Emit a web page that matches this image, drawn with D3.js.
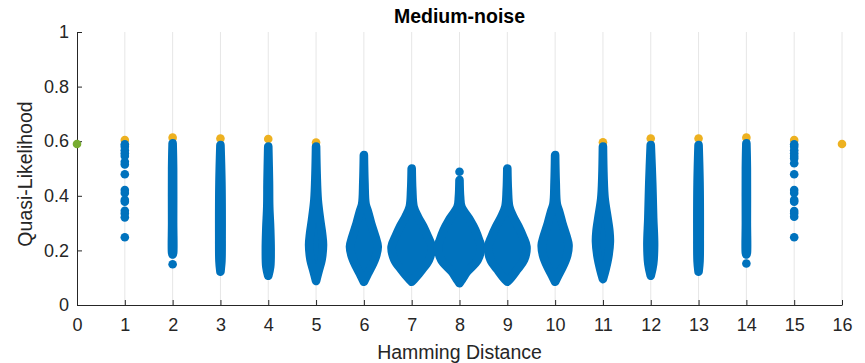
<!DOCTYPE html>
<html>
<head>
<meta charset="utf-8">
<script src="https://cdn.jsdelivr.net/npm/d3@7"></script>
<style>
  body { margin: 0; background: #fff; }
  svg { font-family: "Liberation Sans", Arial, Helvetica, sans-serif; }
</style>
</head>
<body>
<div id="chart"></div>
<script>
// values
const xTicks = d3.range(0, 17);
const yTicks = [0, 0.2, 0.4, 0.6, 0.8, 1];
const ytickLabels = ['0', '0.2', '0.4', '0.6', '0.8', '1'];

// best value per distance (yellow) and the reference point (green)
const bestDist = [1, 2, 3, 4, 5, 11, 12, 13, 14, 15, 16];
const bestVal = [0.604, 0.613, 0.610, 0.608, 0.595, 0.596, 0.610, 0.610, 0.613, 0.604, 0.590];
const originVal = 0.590;

// sparse columns, one dot each
const dots1 = [0.589, 0.580, 0.567, 0.556, 0.546, 0.525, 0.515, 0.479, 0.421, 0.410, 0.385, 0.378, 0.345, 0.335, 0.321, 0.248];
const dots15 = [0.589, 0.580, 0.567, 0.556, 0.546, 0.537, 0.519, 0.479, 0.421, 0.410, 0.385, 0.378, 0.344, 0.335, 0.323, 0.248];
// loose single dots that sit apart from a swarm
const strayDist = [2, 8, 14];
const strayVal = [0.149, 0.488, 0.152];

// dense swarms: [quasi-likelihood, half spread in distance units], top to bottom
const swarm2 = [[0.592, 0], [0.50, 0.01], [0.30, 0.01], [0.19, 0.01], [0.185, 0]];
const swarm3 = [[0.586, 0], [0.45, 0.02], [0.25, 0.025], [0.16, 0.02], [0.122, 0]];
const swarm4 = [[0.580, 0], [0.45, 0.015], [0.36, 0.02], [0.28, 0.04], [0.20, 0.05], [0.14, 0.04], [0.107, 0]];
const swarm5 = [[0.580, 0], [0.48, 0.012], [0.385, 0.035], [0.311, 0.085], [0.262, 0.125], [0.22, 0.145], [0.165, 0.115], [0.122, 0.05], [0.088, 0]];
const swarm6 = [[0.549, 0], [0.45, 0.012], [0.37, 0.035], [0.342, 0.085], [0.30, 0.15], [0.25, 0.24], [0.214, 0.29], [0.177, 0.25], [0.14, 0.16], [0.11, 0.07], [0.085, 0]];
const swarm7 = [[0.500, 0], [0.42, 0.012], [0.36, 0.04], [0.323, 0.13], [0.287, 0.245], [0.25, 0.34], [0.214, 0.42], [0.165, 0.36], [0.128, 0.21], [0.10, 0.08], [0.085, 0]];
const swarm8 = [[0.458, 0], [0.397, 0.012], [0.36, 0.04], [0.311, 0.22], [0.275, 0.33], [0.238, 0.41], [0.214, 0.45], [0.165, 0.38], [0.122, 0.16], [0.095, 0.06], [0.08, 0]];
const swarm9 = [[0.500, 0], [0.42, 0.012], [0.36, 0.04], [0.323, 0.125], [0.287, 0.235], [0.25, 0.33], [0.214, 0.40], [0.165, 0.35], [0.128, 0.2], [0.10, 0.08], [0.085, 0]];
const swarm10 = [[0.549, 0], [0.45, 0.012], [0.37, 0.035], [0.342, 0.085], [0.30, 0.15], [0.25, 0.24], [0.22, 0.28], [0.18, 0.25], [0.14, 0.16], [0.11, 0.07], [0.085, 0]];
const swarm11 = [[0.580, 0], [0.47, 0.012], [0.39, 0.035], [0.32, 0.095], [0.27, 0.135], [0.232, 0.145], [0.18, 0.115], [0.13, 0.055], [0.095, 0]];
const swarm12 = [[0.586, 0], [0.45, 0.03], [0.32, 0.05], [0.22, 0.07], [0.15, 0.05], [0.107, 0]];
const swarm13 = [[0.586, 0], [0.45, 0.02], [0.25, 0.025], [0.16, 0.02], [0.122, 0]];
const swarm14 = [[0.592, 0], [0.50, 0.01], [0.30, 0.01], [0.19, 0.01], [0.185, 0]];

const swarmDist = [2, 3, 4, 5, 6, 7, 8, 9, 10, 11, 12, 13, 14];
const swarms = [swarm2, swarm3, swarm4, swarm5, swarm6, swarm7, swarm8, swarm9, swarm10, swarm11, swarm12, swarm13, swarm14];

const width = 865;
const height = 363;
const margin = {top: 32, right: 23, bottom: 58, left: 77};
const blue = '#0072BD';
const yellow = '#EDB120';
const green = '#77AC30';
const axisColor = '#262626';
const dotR = 4.3;

const svg = d3.select('#chart')
    .append('svg')
    .attr('width', width)
    .attr('height', height);

const xScale = d3.scaleLinear()
    .domain([0, 16])
    .range([margin.left, width - margin.right]);

const yScale = d3.scaleLinear()
    .domain([0, 1])
    .range([height - margin.bottom, margin.top]);

// vertical grid
svg.append('g')
    .selectAll('line')
    .data(xTicks.slice(1))
    .enter().append('line')
    .attr('x1', d => xScale(d))
    .attr('x2', d => xScale(d))
    .attr('y1', yScale(0))
    .attr('y2', yScale(1))
    .attr('stroke', '#e6e6e6')
    .attr('stroke-width', 1);

const plot = svg.append('g');

// yellow best points sit behind the blue ones
plot.selectAll('.best')
    .data(bestDist)
    .enter().append('circle')
    .attr('cx', d => xScale(d))
    .attr('cy', (d, i) => yScale(bestVal[i]))
    .attr('r', dotR)
    .attr('fill', yellow);

// swarms drawn as filled outlines; the thick round stroke stands in for marker size
swarms.forEach((pts, i) => {
  const d = swarmDist[i];
  const area = d3.area()
      .x0(p => xScale(d - p[1]))
      .x1(p => xScale(d + p[1]))
      .y(p => yScale(p[0]))
      .curve(d3.curveCatmullRom.alpha(0.5));
  plot.append('path')
      .attr('d', area(pts))
      .attr('fill', blue)
      .attr('stroke', blue)
      .attr('stroke-width', dotR * 2)
      .attr('stroke-linejoin', 'round');
});

[[1, dots1], [15, dots15]].forEach(([d, vals]) => {
  plot.append('g')
      .selectAll('circle')
      .data(vals)
      .enter().append('circle')
      .attr('cx', xScale(d))
      .attr('cy', v => yScale(v))
      .attr('r', dotR)
      .attr('fill', blue);
});

plot.append('g')
    .selectAll('circle')
    .data(strayDist)
    .enter().append('circle')
    .attr('cx', d => xScale(d))
    .attr('cy', (d, i) => yScale(strayVal[i]))
    .attr('r', dotR)
    .attr('fill', blue);

// axes, MATLAB style: ticks inside, no box
const xAxis = svg.append('g')
    .attr('transform', `translate(0,${yScale(0)})`)
    .call(d3.axisBottom(xScale).tickValues(xTicks).tickFormat(d3.format('d'))
        .tickSizeInner(-5).tickSizeOuter(0).tickPadding(13));

const yAxis = svg.append('g')
    .attr('transform', `translate(${xScale(0)},0)`)
    .call(d3.axisLeft(yScale).tickValues(yTicks).tickFormat((d, i) => ytickLabels[i])
        .tickSizeInner(-5).tickSizeOuter(0).tickPadding(8));

[xAxis, yAxis].forEach(ax => {
  ax.select('.domain').attr('stroke', axisColor).attr('stroke-width', 1);
  ax.selectAll('.tick line').attr('stroke', axisColor);
  ax.selectAll('.tick text')
      .attr('fill', axisColor)
      .style('font-size', '18px')
      .style('font-family', '"Liberation Sans", Arial, sans-serif');
});
xAxis.selectAll('.tick text').attr('dy', '0.71em');

// green reference point at distance 0, drawn over the axis
svg.append('circle')
    .attr('cx', xScale(0))
    .attr('cy', yScale(originVal))
    .attr('r', dotR)
    .attr('fill', green);

svg.append('text')
    .attr('x', (xScale(0) + xScale(16)) / 2)
    .attr('y', 23)
    .attr('text-anchor', 'middle')
    .attr('fill', '#000')
    .style('font-size', '19.5px')
    .style('font-weight', 'bold')
    .text('Medium-noise');

svg.append('text')
    .attr('x', (xScale(0) + xScale(16)) / 2)
    .attr('y', 359)
    .attr('text-anchor', 'middle')
    .attr('fill', axisColor)
    .style('font-size', '19.5px')
    .text('Hamming Distance');

svg.append('text')
    .attr('transform', `translate(32,174) rotate(-90)`)
    .attr('text-anchor', 'middle')
    .attr('fill', axisColor)
    .style('font-size', '19.5px')
    .text('Quasi-Likelihood');
</script>
</body>
</html>
